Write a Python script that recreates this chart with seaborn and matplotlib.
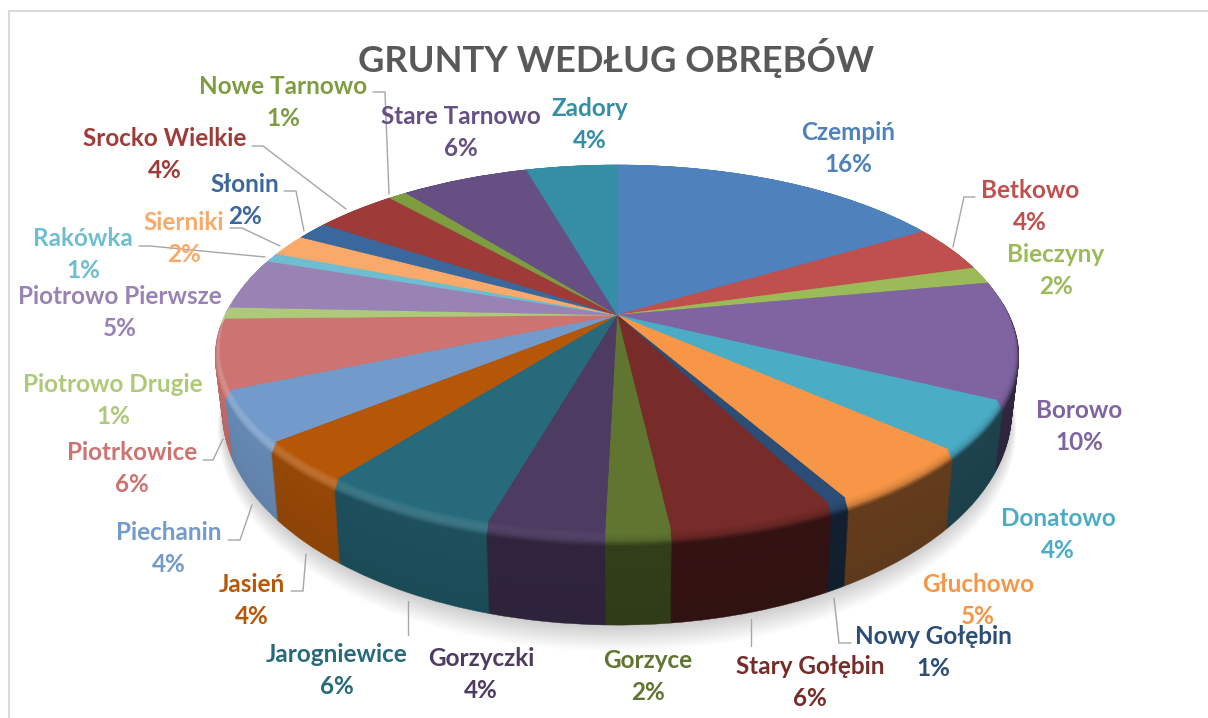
import matplotlib
matplotlib.use('Agg')
import matplotlib.pyplot as plt
import matplotlib.transforms as mtransforms
import numpy as np
import seaborn as sns

sns.set_theme(style='white')
plt.rcParams['font.family'] = ['Lato', 'DejaVu Sans']

# Data, clockwise from 12 o'clock
names = ['Czempiń', 'Betkowo', 'Bieczyny', 'Borowo', 'Donatowo', 'Głuchowo',
         'Nowy Gołębin', 'Stary Gołębin', 'Gorzyce', 'Gorzyczki', 'Jarogniewice',
         'Jasień', 'Piechanin', 'Piotrkowice', 'Piotrowo Drugie', 'Piotrowo Pierwsze',
         'Rakówka', 'Sierniki', 'Słonin', 'Srocko Wielkie', 'Nowe Tarnowo',
         'Stare Tarnowo', 'Zadory']
# printed labels
percents = [16, 4, 2, 10, 4, 5, 1, 6, 2, 4, 6, 4, 4, 6, 1, 5, 1, 2, 2, 4, 1, 6, 4]
# unrounded shares
shares = [16.4, 4.1, 1.5, 10.3, 4.3, 5.2, 0.7, 5.7, 2.2, 4.0, 6.1, 3.6, 4.5, 6.1,
          1.0, 4.5, 0.8, 1.9, 1.6, 4.0, 0.9, 6.2, 4.4]
colors = ['#4F81BD', '#C0504D', '#9BBB59', '#8064A2', '#4BACC6', '#F79646',
          '#2C4D75', '#772C2A', '#5F7530', '#4D3B62', '#276A7C', '#B65708',
          '#729ACA', '#CD7371', '#AFC97A', '#9983B5', '#6FBDD1', '#F9AA6A',
          '#3A679C', '#9E3B38', '#7E9C40', '#664F82', '#358EA6']

# Label centres in picture pixels
label_x = [848, 1030, 1056, 1079, 1058, 978, 933, 810, 648, 481, 337,
           252, 169, 132, 113, 120, 83, 184, 245, 165, 283, 461, 590]
label_y = [133, 190, 254, 411, 518, 584, 636, 666, 661, 658, 655,
           584, 533, 453, 385, 296, 239, 222, 184, 139, 86, 116, 108]
leaders = [[(975, 197), (964, 197), (953, 247)],
           [(851, 643), (839, 643), (834, 598)],
           [(751, 646), (751, 619)],
           [(408, 635), (408, 601)],
           [(291, 591), (303, 591), (306, 554)],
           [(228, 540), (240, 540), (252, 505)],
           [(203, 460), (213, 460), (223, 439)],
           [(139, 246), (150, 246), (265, 257)],
           [(230, 228), (242, 228), (280, 246)],
           [(284, 191), (296, 191), (304, 231)],
           [(252, 146), (263, 146), (346, 209)],
           [(373, 92), (385, 92), (389, 194)]]

W, H = 1208, 718
CX, CY = 617, 315
A, B, K = 396, 179.8, 0.183


class Tilted(mtransforms.Transform):
    # unit circle on the table -> picture pixels, t goes down the side of the cake
    input_dims = 2
    output_dims = 2
    is_separable = False

    def __init__(self, t=0.0, grow=1.0):
        super().__init__()
        self.t = t
        self.grow = grow

    def transform_non_affine(self, values):
        x, y = np.asarray(values).T
        d = 1 + K * y
        px = A * x / d
        py = B * y / d
        px = px * (1 - 0.02 * self.t) * self.grow
        py = py - self.t * (57 - 0.15 * py)
        return np.column_stack([CX + px, CY - py])


def shaded(rgb, f):
    rgb = np.array(rgb)
    if f <= 1:
        return tuple(rgb * f)
    return tuple(rgb + (1 - rgb) * (f - 1))


def layer(vals, cols, t, r=1.0, grow=1.0, alpha=None):
    wedges, _ = ax.pie(vals, colors=cols, startangle=90, counterclock=False, radius=r,
                       wedgeprops=dict(linewidth=0.3 if alpha is None else 0, alpha=alpha))
    for w in wedges:
        w.set_edgecolor(w.get_facecolor())
        w.set_transform(Tilted(t, grow) + ax.transData)
        w.set_clip_on(False)
    return wedges


fig = plt.figure(figsize=(W / 100, H / 100), dpi=100)
ax = fig.add_axes([0, 0, 1, 1])

palette = sns.color_palette(colors)
fracs = np.array(shares) / sum(shares)
mids = 2 * np.pi * (np.cumsum(fracs) - fracs / 2)
mx, my = np.sin(mids), np.cos(mids)
side = np.interp(mx, [-1, -0.7, -0.4, -0.15, 0, 0.3, 1], [0.95, 0.82, 0.73, 0.62, 0.55, 0.42, 0.38])
front = np.clip(0.6 - my, 0, 1)
glow = 0.2 * np.clip(-mx + 0.1, 0, 1)

# soft shadow under the cake
for i in range(16):
    layer([1], ['black'], 1.02 + 0.018 * i, grow=1.0 + 0.0012 * i, alpha=0.011)

# side wall
for t in np.linspace(1, 0.12, 45):
    cols = [shaded(c, s) for c, s in zip(palette, side * (1 - 0.06 * (t - 0.12)))]
    layer(shares, cols, t)

# rounded edge between side and top
steps = np.linspace(1, 0, 14)
for u in steps:
    cols = []
    for c, s, f, g in zip(palette, side, front, glow):
        fac = 1 + (s - 1) * f * (u ** 2) * (1 if u > 0.75 else 0.75)
        col = shaded(c, fac)
        col = shaded(col, 1 + g * np.sin(np.pi * u))
        cols.append(col)
    layer(shares, cols, 0.13 * u, r=0.985 + 0.015 * u)

layer(shares, palette, 0.0, r=0.985)

ax.set_aspect('auto')
ax.set_xlim(0, W)
ax.set_ylim(H, 0)
ax.set_xticks([])
ax.set_yticks([])
ax.set_frame_on(False)

# chart border
ax.plot([9, 9, W], [H, 11, 11], color='#D9D9D9', lw=1.5, solid_joinstyle='miter', zorder=1)

for pts in leaders:
    xs, ys = zip(*pts)
    ax.plot(xs, ys, color='#A6A6A6', lw=1.0, zorder=8, solid_joinstyle='miter')

for n, p, c, x, y in zip(names, percents, colors, label_x, label_y):
    ax.text(x, y, n, color=c, ha='center', va='center', fontsize=17.5, fontweight='bold', zorder=9)
    ax.text(x, y + 32, f'{p}%', color=c, ha='center', va='center', fontsize=17.5, fontweight='bold', zorder=9)

ax.text(616, 58, 'GRUNTY WEDŁUG OBRĘBÓW', color='#595959', ha='center', va='center',
        fontsize=26.2, fontweight='bold', zorder=9)

fig.savefig('out.png', dpi=100)
